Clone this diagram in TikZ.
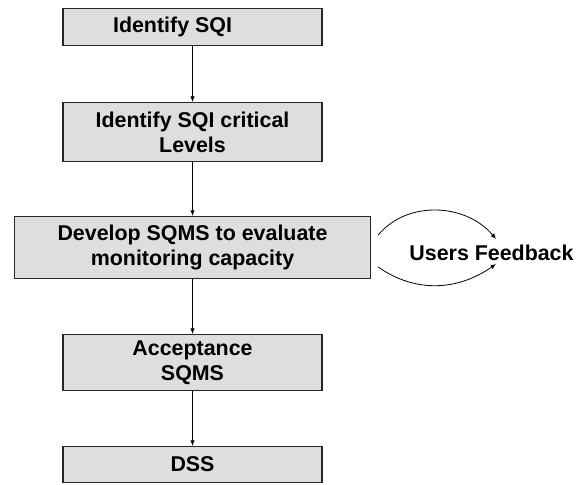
\documentclass[tikz,border=0pt]{standalone}
\usepackage{fontspec}
\setmainfont{Liberation Sans}
\usetikzlibrary{arrows.meta}

\begin{document}
\begin{tikzpicture}[x=1pt,y=-1pt,
        stage/.style={draw=black!85,line width=1.3pt,fill=black!13,align=center,inner sep=0pt,minimum width=259pt,
            font=\fontsize{21.4}{25}\selectfont\bfseries},
        flow/.style={line width=.8pt,-{Latex[length=5.5pt,width=4.5pt]}}]
        \useasboundingbox (0,0) rectangle (588,484);
        \node[stage,minimum height=37pt] (sqi) at (192.5,27) {Identify SQI\hspace*{40pt}};
        \node[stage,minimum height=59pt] (lev) at (192.5,132) {Identify SQI critical\\Levels};
        \node[stage,minimum width=356pt,minimum height=62pt] (dev) at (192.5,247.5) {Develop SQMS to evaluate\\monitoring capacity};
        \node[stage,minimum height=56pt] (acc) at (192.5,362.5) {Acceptance\\SQMS};
        \node[stage,minimum height=36pt] (dss) at (192.5,464.5) {DSS};
        \node[font=\fontsize{21.4}{25}\selectfont\bfseries] (fb) at (491.5,253) {Users Feedback};
        \draw[flow] (sqi) -- (lev);
        \draw[flow] (lev) -- (dev);
        \draw[flow] (dev) -- (acc);
        \draw[flow] (acc) -- (dss);
        \draw[flow] ([shift={(7,-12.5)}]dev.east) to[out=50,in=130] ([shift={(4.5,-14)}]fb.center);
        \draw[flow] ([shift={(7,19.5)}]dev.east) to[out=-35,in=-145] ([shift={(4.5,11)}]fb.center);
    \end{tikzpicture}
\end{document}
